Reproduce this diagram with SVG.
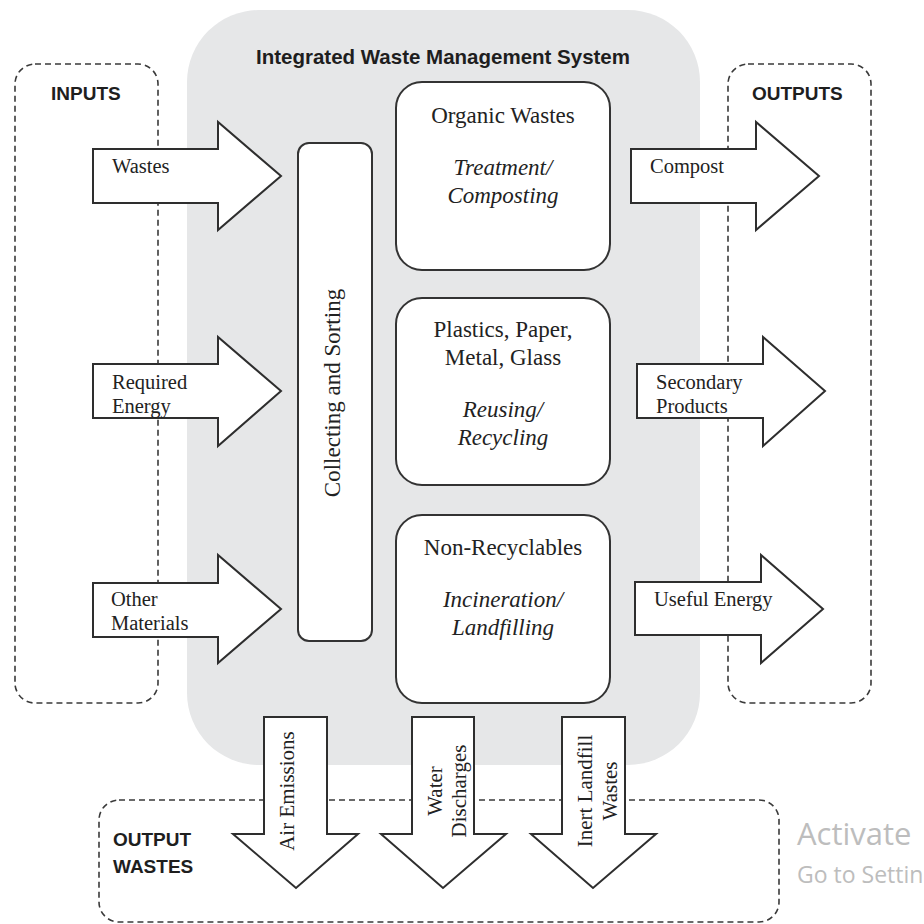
<svg xmlns="http://www.w3.org/2000/svg" width="924" height="924" viewBox="0 0 924 924">
<style>
.dash{fill:none;stroke:#3a3a3a;stroke-width:1.6;stroke-dasharray:6 4}
.box{fill:#fff;stroke:#333;stroke-width:2}
.arr{fill:#fff;stroke:#2e2e2e;stroke-width:2;stroke-linejoin:miter}
.hd{font-family:"Liberation Sans",Arial,sans-serif;font-weight:bold;font-size:19px;fill:#1e1e1e}
.ttl{font-size:20.5px;text-anchor:middle}
.t{font-family:"Liberation Serif","Times New Roman",serif;font-size:20.5px;fill:#222}
.v{font-size:21px;text-anchor:middle}
.bt{font-family:"Liberation Serif","Times New Roman",serif;font-size:23px;fill:#222;text-anchor:middle}
.it{font-style:italic}
.wm{font-family:"Open Sans","Noto Sans",sans-serif;fill:#bdbdbd}
</style>
<rect width="924" height="924" fill="#fff"/>
<g id="inputs-area"><rect class="dash" x="15" y="64" width="143" height="639" rx="20"/><text class="hd" x="51" y="100">INPUTS</text></g>
<g id="outputs-area"><rect class="dash" x="728" y="64" width="143" height="639" rx="20"/><text class="hd" x="752" y="100">OUTPUTS</text></g>
<g id="output-wastes-area"><rect class="dash" x="99" y="800" width="680" height="122" rx="20"/><text class="hd" x="113" y="846">OUTPUT</text><text class="hd" x="113" y="873">WASTES</text></g>
<g id="system"><rect x="187" y="10" width="513" height="755" rx="72" fill="#e6e7e8"/><text class="hd ttl" x="443" y="64">Integrated Waste Management System</text></g>
<g id="collecting"><rect class="box" x="298" y="143" width="74" height="498" rx="11"/><text class="bt" transform="translate(340,393) rotate(-90)">Collecting and Sorting</text></g>
<g id="organic"><rect class="box" x="396" y="82" width="214" height="188" rx="26"/><text class="bt" x="503" y="123">Organic Wastes</text><text class="bt it" x="503" y="175">Treatment/</text><text class="bt it" x="503" y="203">Composting</text></g>
<g id="recyclables"><rect class="box" x="396" y="298" width="214" height="187" rx="26"/><text class="bt" x="503" y="337">Plastics, Paper,</text><text class="bt" x="503" y="365">Metal, Glass</text><text class="bt it" x="503" y="417">Reusing/</text><text class="bt it" x="503" y="445">Recycling</text></g>
<g id="nonrecyclables"><rect class="box" x="396" y="515" width="214" height="188" rx="26"/><text class="bt" x="503" y="555">Non-Recyclables</text><text class="bt it" x="503" y="607">Incineration/</text><text class="bt it" x="503" y="635">Landfilling</text></g>
<g id="connectors">
<g id="in-wastes"><polygon class="arr" points="93,149 218,149 218,122 281,176 218,230 218,203 93,203"/><text class="t" x="112" y="173">Wastes</text></g>
<g id="in-energy"><polygon class="arr" points="93,364 218,364 218,337 281,391 218,446 218,418 93,418"/><text class="t" x="112" y="389">Required</text><text class="t" x="112" y="413">Energy</text></g>
<g id="in-other"><polygon class="arr" points="93,583 218,583 218,555 281,609 218,663 218,637 93,637"/><text class="t" x="111" y="606">Other</text><text class="t" x="111" y="630">Materials</text></g>
<g id="out-compost"><polygon class="arr" points="631,149 756,149 756,122 819,176 756,230 756,203 631,203"/><text class="t" x="650" y="173">Compost</text></g>
<g id="out-secondary"><polygon class="arr" points="637,364 763,364 763,337 825,391 763,446 763,418 637,418"/><text class="t" x="656" y="389">Secondary</text><text class="t" x="656" y="413">Products</text></g>
<g id="out-energy"><polygon class="arr" points="635,582 761,582 761,555 823,609 761,663 761,635 635,635"/><text class="t" x="654" y="606">Useful Energy</text></g>
<g id="w-air"><polygon class="arr" points="264,717 327,717 327,834 358,834 296,888 233,834 264,834"/><text class="t v" transform="translate(294,791) rotate(-90)">Air Emissions</text></g>
<g id="w-water"><polygon class="arr" points="412,717 474,717 474,834 506,834 443,888 381,834 412,834"/><text class="t v" transform="translate(442,791) rotate(-90)">Water</text><text class="t v" transform="translate(466,791) rotate(-90)">Discharges</text></g>
<g id="w-inert"><polygon class="arr" points="562,717 625,717 625,834 656,834 593,888 531,834 562,834"/><text class="t v" transform="translate(592,791) rotate(-90)">Inert Landfill</text><text class="t v" transform="translate(617,791) rotate(-90)">Wastes</text></g>
</g>
<g id="watermark"><text class="wm" x="797" y="845" style="font-size:31px">Activate</text><text class="wm" x="797" y="883" style="font-size:23px">Go to Settin</text></g>
</svg>
